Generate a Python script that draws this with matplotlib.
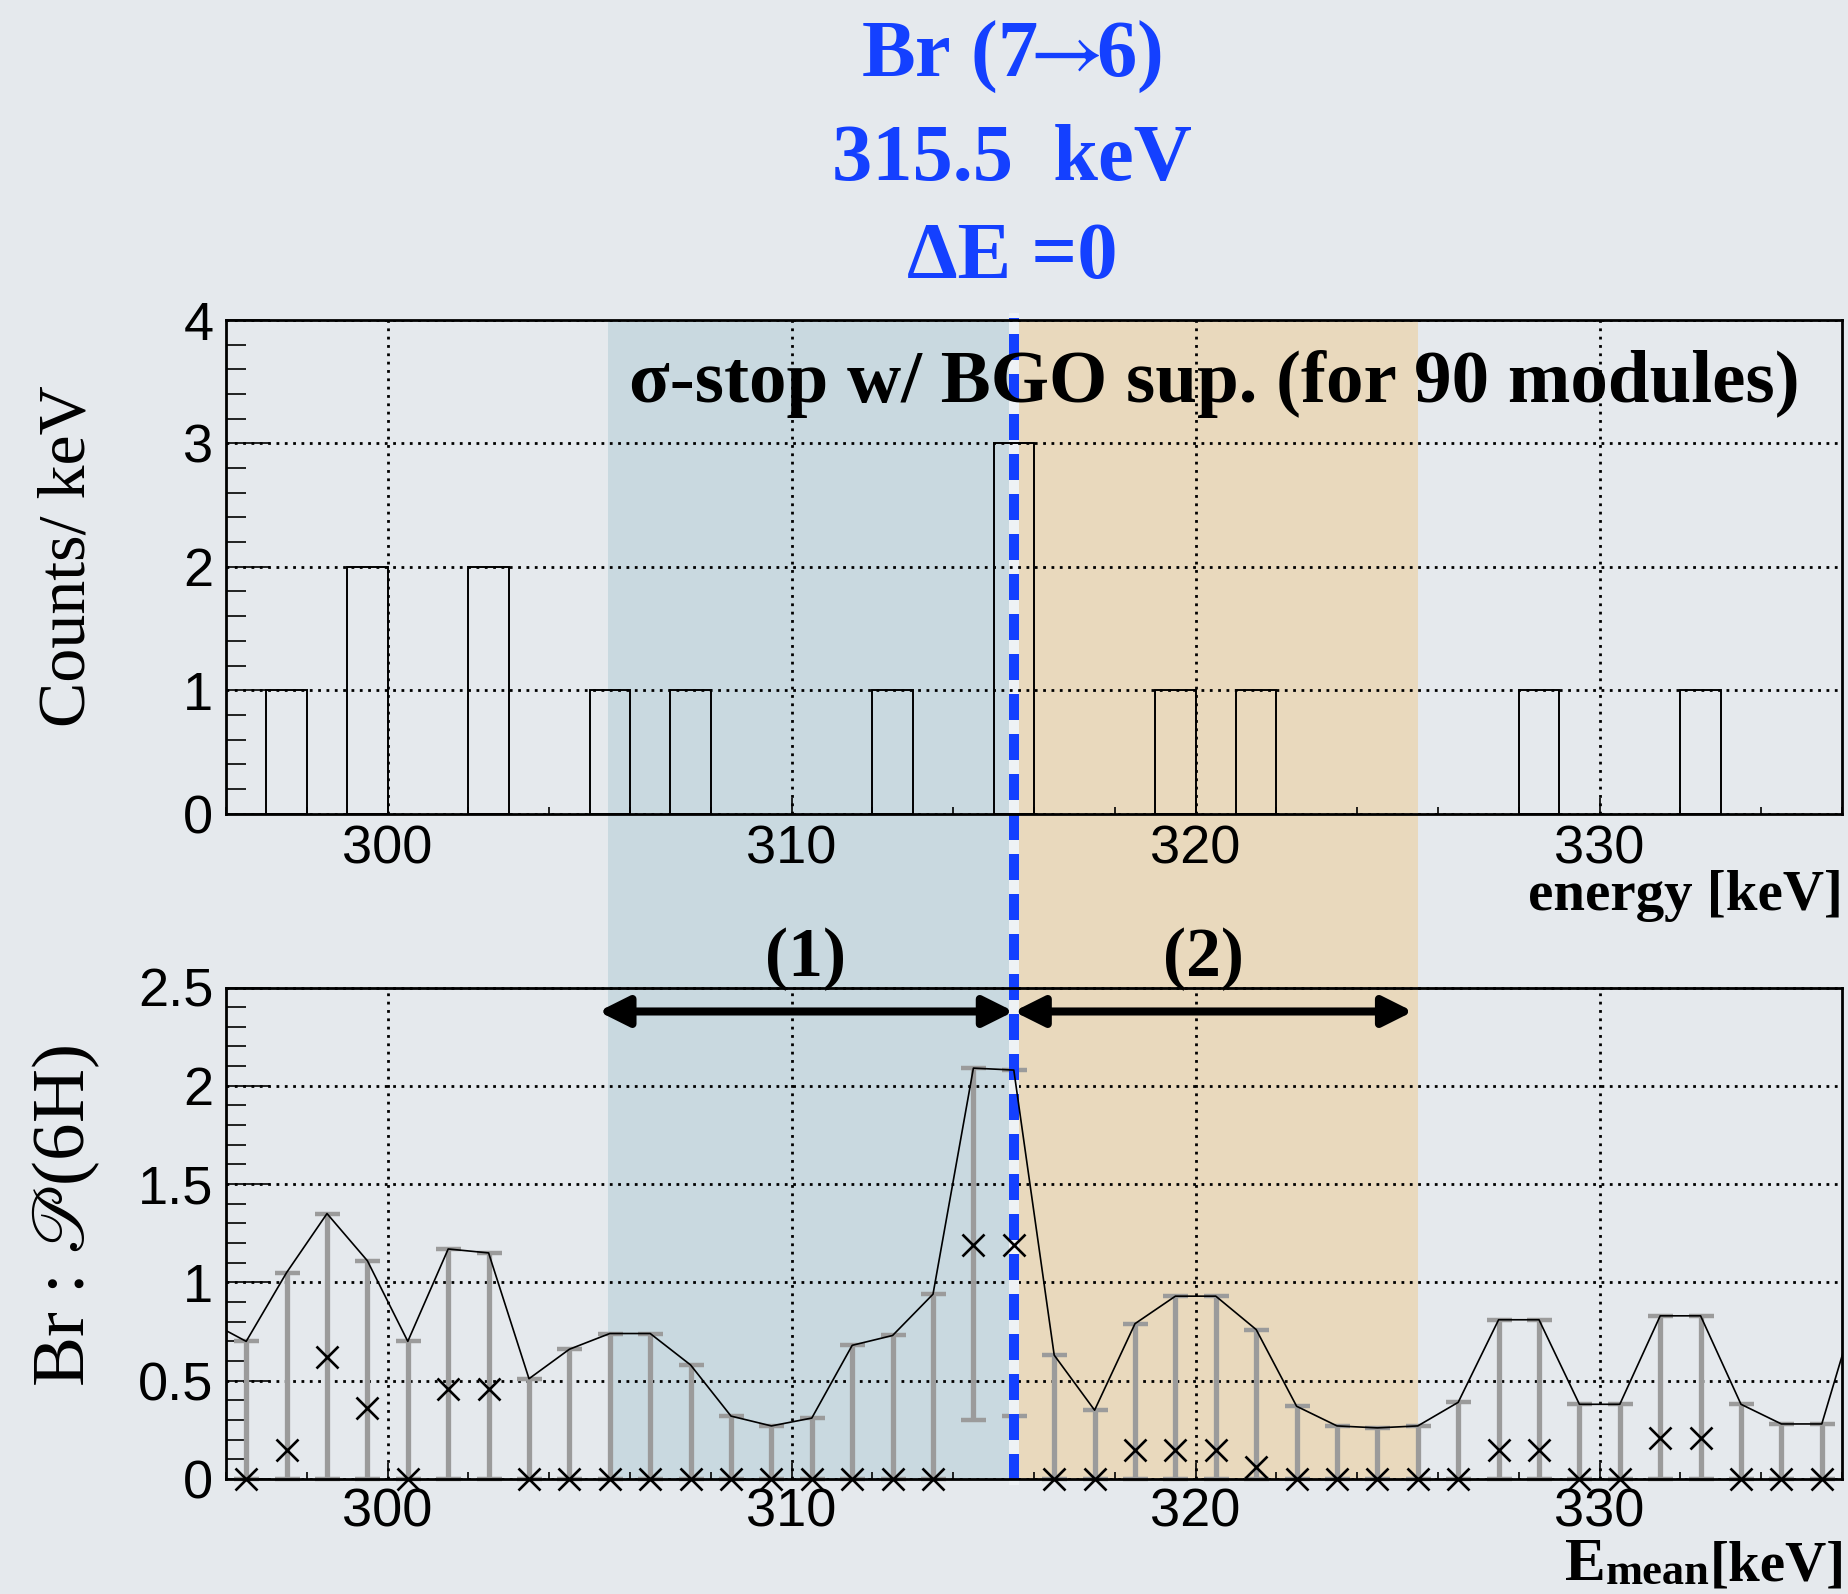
import matplotlib
matplotlib.use("Agg")
import matplotlib.pyplot as plt  # noqa: E402

import numpy as np
from matplotlib.lines import Line2D
from matplotlib.patches import Rectangle, FancyArrowPatch
from matplotlib.ticker import MultipleLocator, FuncFormatter
from matplotlib.transforms import blended_transform_factory

W, H, DPI = 1849, 1594, 100

# ---- data -------------------------------------------------------------
# top: counts per 1 keV bin, bins start at 296 keV
bin_edges = np.arange(296, 337)
counts = [0, 1, 0, 2, 0, 0, 2, 0, 0, 1,
          0, 1, 0, 0, 0, 0, 1, 0, 0, 3,
          0, 0, 0, 1, 0, 1, 0, 0, 0, 0,
          0, 0, 1, 0, 0, 0, 1, 0, 0, 0]

# bottom: Br : P(6H) vs E_mean (bin centres)
e_mean = bin_edges[:-1] + 0.5
p_upper = [0.70, 1.05, 1.35, 1.11, 0.70, 1.17, 1.15, 0.51, 0.66, 0.74,
           0.74, 0.58, 0.32, 0.27, 0.31, 0.68, 0.73, 0.94, 2.09, 2.08,
           0.63, 0.35, 0.79, 0.93, 0.93, 0.76, 0.37, 0.27, 0.26, 0.27,
           0.39, 0.81, 0.81, 0.38, 0.38, 0.83, 0.83, 0.38, 0.28, 0.28]
p_center = [0.00, 0.15, 0.62, 0.36, 0.00, 0.46, 0.46, 0.00, 0.00, 0.00,
            0.00, 0.00, 0.00, 0.00, 0.00, 0.00, 0.00, 0.00, 1.19, 1.19,
            0.00, 0.00, 0.15, 0.15, 0.15, 0.06, 0.00, 0.00, 0.00, 0.00,
            0.00, 0.15, 0.15, 0.00, 0.00, 0.21, 0.21, 0.00, 0.00, 0.00]
p_lower = [0.00] * 18 + [0.30, 0.32] + [0.00] * 20
# neighbouring points just outside the window (line only)
edge_x = [295.5, 336.5]
edge_upper = [0.81, 0.97]

line_e = 315.5
region1 = (305.45, 315.45)
region2 = (315.6, 325.5)
arrow1 = (305.22, 315.5)
arrow2 = (315.5, 325.38)

BG = "#e5e9ed"
BLUE = "#1440ff"
SERIF = ["Liberation Serif", "DejaVu Serif"]

plt.rcParams["font.family"] = ["Liberation Sans", "DejaVu Sans"]
plt.rcParams["mathtext.fontset"] = "stix"


def px_x(x):
    return x / W


def px_y(y):
    return 1 - y / H


fig = plt.figure(figsize=(W / DPI, H / DPI), dpi=DPI, facecolor=BG)
ax_top = fig.add_axes([px_x(226), px_y(813.6), (1842 - 226) / W, (813.6 - 320) / H])
ax_bot = fig.add_axes([px_x(226), px_y(1479), (1842 - 226) / W, (1479 - 987.5) / H])
ax_top.set_zorder(2)
ax_bot.set_zorder(1)

for ax in (ax_top, ax_bot):
    ax.set_facecolor("none")
    for s in ax.spines.values():
        s.set_linewidth(2.0)
    ax.tick_params(which="both", direction="in", top=False, right=False,
                   width=1.2, labelsize=39)
    ax.tick_params(axis="y", which="major", length=31.7, pad=9)
    ax.tick_params(axis="y", which="minor", length=14.4)
    ax.tick_params(axis="x", which="major", length=11.5)
    ax.tick_params(axis="x", which="minor", length=5)
    ax.xaxis.set_major_locator(MultipleLocator(10))
    ax.xaxis.set_minor_locator(MultipleLocator(2))
    ax.grid(True, which="major", color="black", linestyle=(0, (1, 2)), linewidth=2.0)

ax_top.tick_params(axis="x", pad=8)
ax_bot.tick_params(axis="x", pad=6)

# shaded regions spanning both panels
span = blended_transform_factory(ax_bot.transData, fig.transFigure)
for (x0, x1), col in ((region1, "#c9d9e0"), (region2, "#e9d9bd")):
    fig.add_artist(Rectangle((x0, px_y(1480)), x1 - x0, (1480 - 320) / H,
                             transform=span, color=col, lw=0, zorder=-1))

# ---- top panel: histogram --------------------------------------------
counts = np.array(counts)
filled = counts > 0
ax_top.bar(bin_edges[:-1][filled], counts[filled], width=1, align="edge",
           fill=False, edgecolor="black", linewidth=1.4, zorder=2)
ax_top.set_xlim(296, 336)
ax_top.set_ylim(0, 4)
ax_top.yaxis.set_major_locator(MultipleLocator(1))
ax_top.yaxis.set_minor_locator(MultipleLocator(0.2))
ax_top.text(320.46, 3.335, "σ-stop w/ BGO sup. (for 90 modules)", ha="center",
            va="baseline", fontsize=54, fontweight="bold", family=SERIF, zorder=5)

# ---- bottom panel -----------------------------------------------------
p_upper = np.array(p_upper)
p_center = np.array(p_center)
p_lower = np.array(p_lower)
ax_bot.errorbar(e_mean, p_center, yerr=[p_center - p_lower, p_upper - p_center],
                fmt="none", ecolor="#9b9b9b", elinewidth=3.8, capsize=9,
                capthick=3.2, zorder=2, clip_on=False)
ax_bot.plot(np.r_[edge_x[0], e_mean, edge_x[1]],
            np.r_[edge_upper[0], p_upper, edge_upper[1]],
            color="black", lw=1.2, zorder=3)
ax_bot.plot(e_mean, p_center, linestyle="none", marker="x", ms=16.5, mew=1.9,
            color="black", zorder=4, clip_on=False)

# E = 315.5 keV marker line, across both panels
for kw in (dict(color="#eef2f5", lw=7.2, zorder=2.4),
           dict(color=BLUE, lw=7.2, zorder=2.5, linestyle=(0, (2.6, 1.4)))):
    ax_bot.add_line(Line2D([line_e, line_e], [px_y(1480), px_y(318)],
                           transform=span, clip_on=False, **kw))

for (a, b), lab in ((arrow1, "(1)"), (arrow2, "(2)")):
    ax_bot.add_patch(FancyArrowPatch((a, 2.378), (b, 2.378),
                                     arrowstyle="<|-|>,head_length=18,head_width=9",
                                     mutation_scale=1, lw=5.8, color="black",
                                     shrinkA=0, shrinkB=0, joinstyle="round",
                                     clip_on=False, zorder=5))
ax_bot.text(310.35, 2.645, "(1)", ha="center", va="center", fontsize=50,
            fontweight="bold", family=SERIF, clip_on=False)
ax_bot.text(320.2, 2.645, "(2)", ha="center", va="center", fontsize=50,
            fontweight="bold", family=SERIF, clip_on=False)

ax_bot.set_xlim(296, 336)
ax_bot.set_ylim(0, 2.5)
ax_bot.yaxis.set_major_locator(MultipleLocator(0.5))
ax_bot.yaxis.set_minor_locator(MultipleLocator(0.1))
ax_bot.yaxis.set_major_formatter(FuncFormatter(lambda v, _: f"{v:g}"))

# ---- labels -----------------------------------------------------------
for txt, yb in ((r"Br (7$\!\!\rightarrow\!\!$6)", 76), ("315.5  keV", 180),
                ("ΔE =0", 278)):
    fig.text(px_x(1012), px_y(yb), txt, ha="center", va="baseline", fontsize=58,
             fontweight="bold", color=BLUE, family=SERIF)

fig.text(px_x(68), px_y(556), "Counts/ keV", rotation=90, ha="center", va="center",
         fontsize=49, family=SERIF)
fig.text(px_x(66), px_y(1216), r"Br : $\mathscr{P}$(6H)", rotation=90, ha="center",
         va="center", fontsize=54, family=SERIF)

fig.text(px_x(1843), px_y(910), "energy [keV]", ha="right", va="baseline",
         fontsize=41, fontweight="bold", family=SERIF)

t_kev = fig.text(px_x(1846), px_y(1581), "[keV]", ha="right", va="baseline",
                 fontsize=41, fontweight="bold", family=SERIF)
t_mean = ax_bot.annotate("mean", xy=(0, 0), xycoords=t_kev, ha="right", va="bottom",
                         fontsize=32, fontweight="bold", family=SERIF,
                         annotation_clip=False)
ax_bot.annotate("E", xy=(0, 0), xycoords=t_mean, ha="right", va="bottom",
                fontsize=44, fontweight="bold", family=SERIF, annotation_clip=False)

fig.savefig("out.png", dpi=DPI, facecolor=BG)
